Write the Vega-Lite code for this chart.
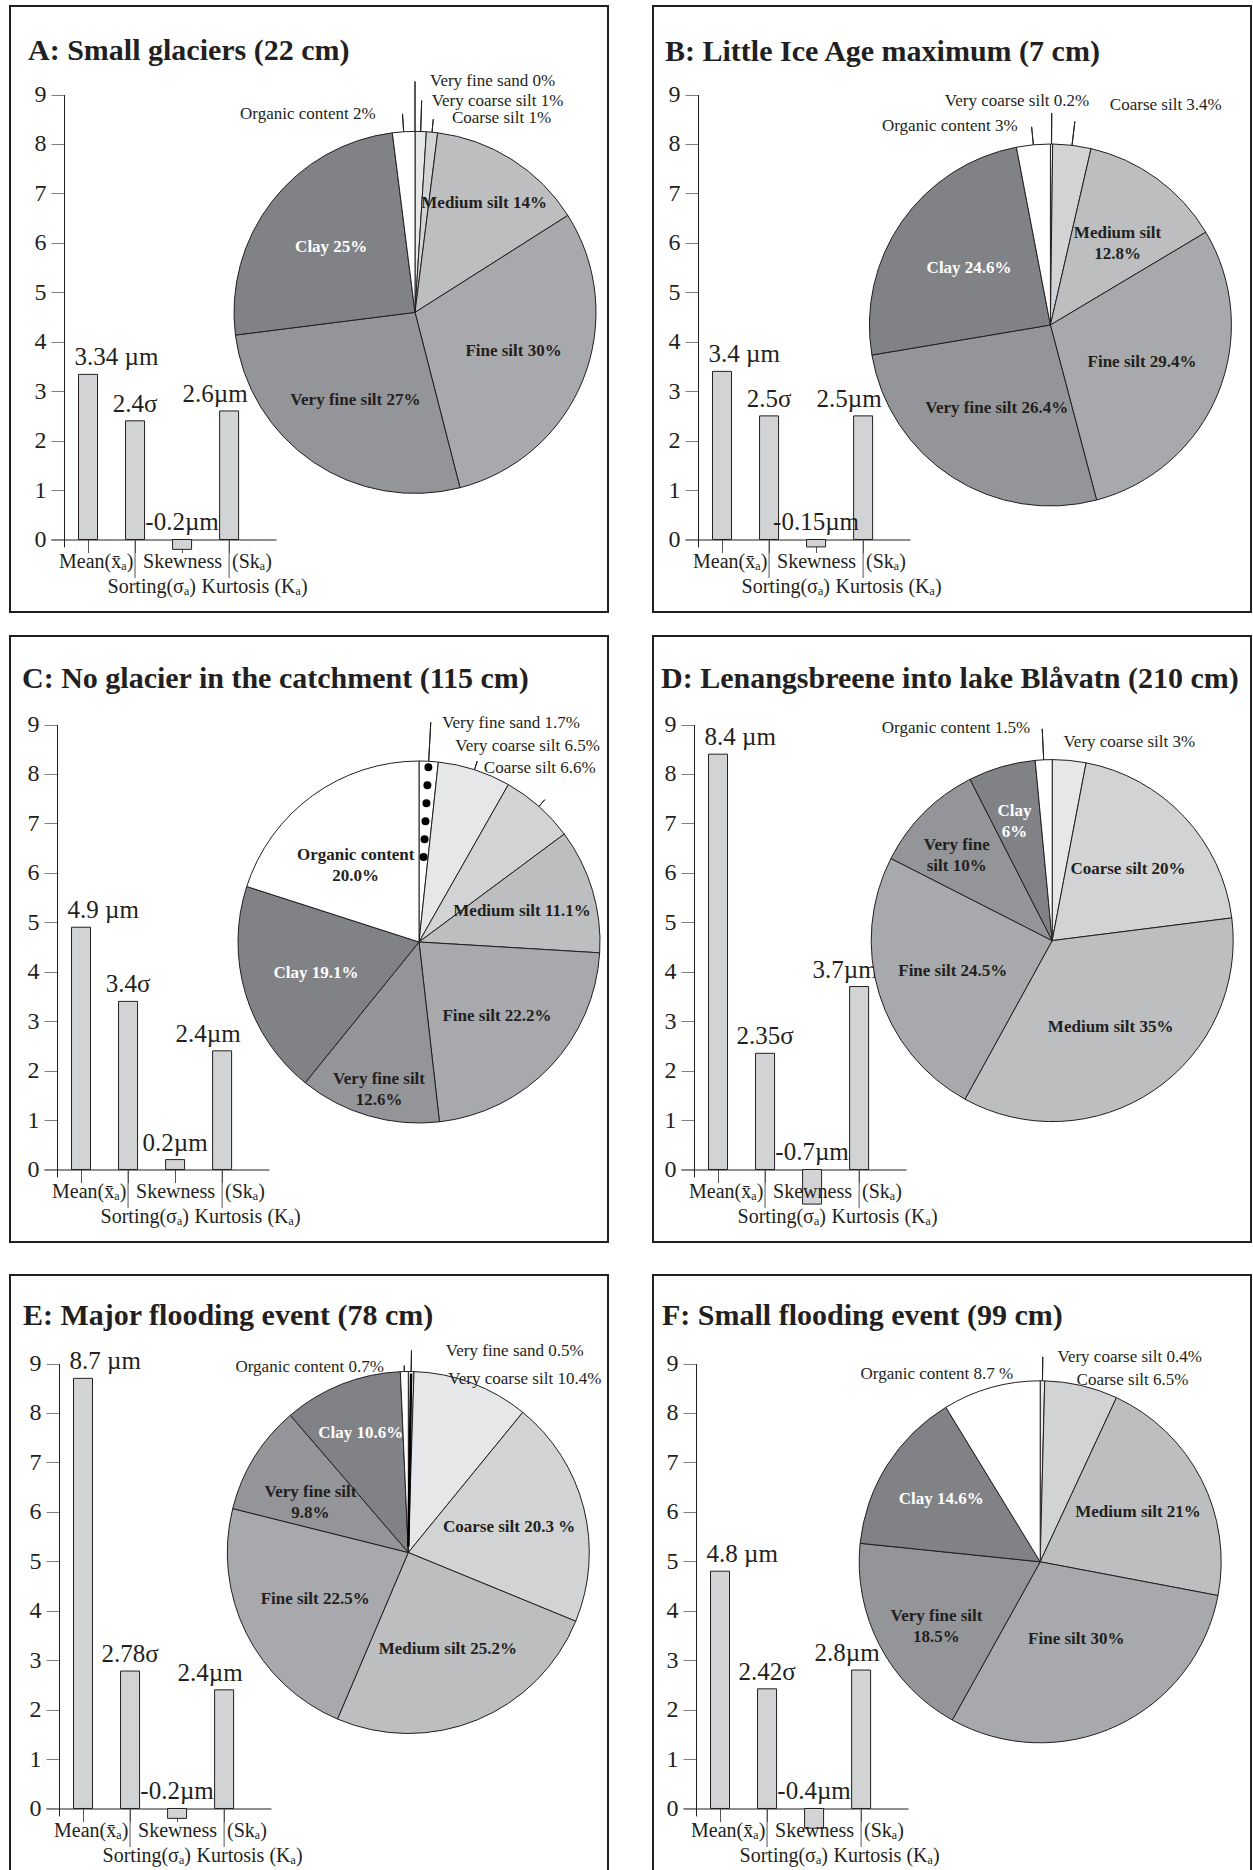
{
  "$schema": "https://vega.github.io/schema/vega-lite/v6.json",
  "padding": {"left": 9, "top": 5, "right": 0, "bottom": 0},
  "background": "#ffffff",
  "config": {
    "view": {"stroke": "#231f20", "strokeWidth": 2},
    "title": {"font": "Liberation Serif", "fontSize": 30, "fontWeight": "bold", "anchor": "start", "frame": "group", "baseline": "alphabetic", "color": "#231f20"},
    "axisY": {"labelFont": "Liberation Serif", "labelFontSize": 24, "labelColor": "#231f20", "tickSize": 13, "labelPadding": 5, "tickColor": "#808080", "domainColor": "#231f20", "grid": false},
    "axisX": {"labels": false, "domainColor": "#231f20", "tickColor": "#555555", "tickSize": 13, "grid": false}
  },
  "datasets": {
    "stats": [
      {"stat": "Mean", "name": "Mean(x\u0304\u2090)"},
      {"stat": "Sorting", "name": "Sorting(\u03c3\u2090)"},
      {"stat": "Skewness", "name": "Skewness\u2002(Sk\u2090)"},
      {"stat": "Kurtosis", "name": "Kurtosis (K\u2090)"}
    ],
    "bA": [
      {"stat": "Mean", "value": 3.34, "text": "3.34 \u00b5m"},
      {"stat": "Sorting", "value": 2.4, "text": "2.4\u03c3"},
      {"stat": "Skewness", "value": -0.2, "text": "-0.2\u00b5m"},
      {"stat": "Kurtosis", "value": 2.6, "text": "2.6\u00b5m"}
    ],
    "bB": [
      {"stat": "Mean", "value": 3.4, "text": "3.4 \u00b5m"},
      {"stat": "Sorting", "value": 2.5, "text": "2.5\u03c3"},
      {"stat": "Skewness", "value": -0.15, "text": "-0.15\u00b5m"},
      {"stat": "Kurtosis", "value": 2.5, "text": "2.5\u00b5m"}
    ],
    "bC": [
      {"stat": "Mean", "value": 4.9, "text": "4.9 \u00b5m"},
      {"stat": "Sorting", "value": 3.4, "text": "3.4\u03c3"},
      {"stat": "Skewness", "value": 0.2, "text": "0.2\u00b5m"},
      {"stat": "Kurtosis", "value": 2.4, "text": "2.4\u00b5m"}
    ],
    "bD": [
      {"stat": "Mean", "value": 8.4, "text": "8.4 \u00b5m"},
      {"stat": "Sorting", "value": 2.35, "text": "2.35\u03c3"},
      {"stat": "Skewness", "value": -0.7, "text": "-0.7\u00b5m"},
      {"stat": "Kurtosis", "value": 3.7, "text": "3.7\u00b5m"}
    ],
    "bE": [
      {"stat": "Mean", "value": 8.7, "text": "8.7 \u00b5m"},
      {"stat": "Sorting", "value": 2.78, "text": "2.78\u03c3"},
      {"stat": "Skewness", "value": -0.2, "text": "-0.2\u00b5m"},
      {"stat": "Kurtosis", "value": 2.4, "text": "2.4\u00b5m"}
    ],
    "bF": [
      {"stat": "Mean", "value": 4.8, "text": "4.8 \u00b5m"},
      {"stat": "Sorting", "value": 2.42, "text": "2.42\u03c3"},
      {"stat": "Skewness", "value": -0.4, "text": "-0.4\u00b5m"},
      {"stat": "Kurtosis", "value": 2.8, "text": "2.8\u00b5m"}
    ],
    "pA": [
      {"cat": "Very fine sand", "pct": 0, "label": "Very fine sand 0%"},
      {"cat": "Very coarse silt", "pct": 1, "label": "Very coarse silt 1%"},
      {"cat": "Coarse silt", "pct": 1, "label": "Coarse silt 1%"},
      {"cat": "Medium silt", "pct": 14, "label": "Medium silt 14%"},
      {"cat": "Fine silt", "pct": 30, "label": "Fine silt 30%"},
      {"cat": "Very fine silt", "pct": 27, "label": "Very fine silt 27%"},
      {"cat": "Clay", "pct": 25, "label": "Clay 25%"},
      {"cat": "Organic content", "pct": 2, "label": "Organic content 2%"}
    ],
    "pB": [
      {"cat": "Very coarse silt", "pct": 0.2, "label": "Very coarse silt 0.2%"},
      {"cat": "Coarse silt", "pct": 3.4, "label": "Coarse silt 3.4%"},
      {"cat": "Medium silt", "pct": 12.8, "label": "Medium silt\n12.8%"},
      {"cat": "Fine silt", "pct": 29.4, "label": "Fine silt 29.4%"},
      {"cat": "Very fine silt", "pct": 26.4, "label": "Very fine silt 26.4%"},
      {"cat": "Clay", "pct": 24.6, "label": "Clay 24.6%"},
      {"cat": "Organic content", "pct": 3, "label": "Organic content 3%"}
    ],
    "pC": [
      {"cat": "Very fine sand", "pct": 1.7, "label": "Very fine sand 1.7%"},
      {"cat": "Very coarse silt", "pct": 6.5, "label": "Very coarse silt 6.5%"},
      {"cat": "Coarse silt", "pct": 6.6, "label": "Coarse silt 6.6%"},
      {"cat": "Medium silt", "pct": 11.1, "label": "Medium silt 11.1%"},
      {"cat": "Fine silt", "pct": 22.2, "label": "Fine silt 22.2%"},
      {"cat": "Very fine silt", "pct": 12.6, "label": "Very fine silt\n12.6%"},
      {"cat": "Clay", "pct": 19.1, "label": "Clay 19.1%"},
      {"cat": "Organic content", "pct": 20.0, "label": "Organic content\n20.0%"}
    ],
    "pD": [
      {"cat": "Very coarse silt", "pct": 3, "label": "Very coarse silt 3%"},
      {"cat": "Coarse silt", "pct": 20, "label": "Coarse silt 20%"},
      {"cat": "Medium silt", "pct": 35, "label": "Medium silt 35%"},
      {"cat": "Fine silt", "pct": 24.5, "label": "Fine silt 24.5%"},
      {"cat": "Very fine silt", "pct": 10, "label": "Very fine\nsilt 10%"},
      {"cat": "Clay", "pct": 6, "label": "Clay\n6%"},
      {"cat": "Organic content", "pct": 1.5, "label": "Organic content 1.5%"}
    ],
    "pE": [
      {"cat": "Very fine sand", "pct": 0.5, "label": "Very fine sand 0.5%"},
      {"cat": "Very coarse silt", "pct": 10.4, "label": "Very coarse silt 10.4%"},
      {"cat": "Coarse silt", "pct": 20.3, "label": "Coarse silt 20.3 %"},
      {"cat": "Medium silt", "pct": 25.2, "label": "Medium silt 25.2%"},
      {"cat": "Fine silt", "pct": 22.5, "label": "Fine silt  22.5%"},
      {"cat": "Very fine silt", "pct": 9.8, "label": "Very fine silt\n9.8%"},
      {"cat": "Clay", "pct": 10.6, "label": "Clay 10.6%"},
      {"cat": "Organic content", "pct": 0.7, "label": "Organic content 0.7%"}
    ],
    "pF": [
      {"cat": "Very coarse silt", "pct": 0.4, "label": "Very coarse silt 0.4%"},
      {"cat": "Coarse silt", "pct": 6.5, "label": "Coarse silt 6.5%"},
      {"cat": "Medium silt", "pct": 21, "label": "Medium silt 21%"},
      {"cat": "Fine silt", "pct": 30, "label": "Fine silt 30%"},
      {"cat": "Very fine silt", "pct": 18.5, "label": "Very fine silt\n18.5%"},
      {"cat": "Clay", "pct": 14.6, "label": "Clay 14.6%"},
      {"cat": "Organic content", "pct": 8.7, "label": "Organic content 8.7 %"}
    ]
  },
  "vconcat": [
    {
      "vconcat": [
        {
          "hconcat": [
            {
              "width": 598, "height": 606,
              "title": {"text": "A: Small glaciers (22 cm)", "offset": -60, "dx": 18},
              "layer": [
                {
                  "data": {"name": "bA"},
                  "transform": [{"calculate": "max(datum.value, 0)", "as": "top"}],
                  "layer": [
                    {"mark": {"type": "bar", "fill": "#d1d3d4", "stroke": "#231f20", "strokeWidth": 1},
                     "encoding": {
                       "x": {"field": "stat", "type": "nominal", "scale": {"domain": ["Mean", "Sorting", "Skewness", "Kurtosis"], "range": [41, 266], "paddingInner": 0.596, "paddingOuter": 0.69, "align": 0.424}, "axis": {"offset": -72.5, "title": null}},
                       "y": {"field": "value", "type": "quantitative", "scale": {"domain": [-0.15, 9], "range": [540.9, 88.5], "nice": false, "zero": false}, "axis": {"offset": -54, "title": null, "format": "d", "values": [0, 1, 2, 3, 4, 5, 6, 7, 8, 9]}}
                     }},
                    {"transform": [{"filter": "datum.stat === 'Sorting' || datum.stat === 'Kurtosis'"}],
                     "mark": {"type": "rule", "stroke": "#555555", "strokeWidth": 1},
                     "encoding": {"x": {"field": "stat", "type": "nominal"}, "y": {"datum": 0, "type": "quantitative"}, "y2": {"datum": -0.78}}},
                    {"transform": [{"filter": "datum.stat === 'Mean'"}],
                     "mark": {"type": "text", "font": "Liberation Serif", "fontSize": 25, "baseline": "alphabetic", "fill": "#231f20", "dy": -9, "align": "left", "dx": -13.5},
                     "encoding": {"x": {"field": "stat", "type": "nominal"}, "y": {"field": "top", "type": "quantitative"}, "text": {"field": "text"}}},
                    {"transform": [{"filter": "datum.stat === 'Sorting' || datum.stat === 'Skewness'"}],
                     "mark": {"type": "text", "font": "Liberation Serif", "fontSize": 25, "baseline": "alphabetic", "fill": "#231f20", "dy": -9, "align": "center"},
                     "encoding": {"x": {"field": "stat", "type": "nominal"}, "y": {"field": "top", "type": "quantitative"}, "text": {"field": "text"}}},
                    {"transform": [{"filter": "datum.stat === 'Kurtosis'"}],
                     "mark": {"type": "text", "font": "Liberation Serif", "fontSize": 25, "baseline": "alphabetic", "fill": "#231f20", "dy": -9, "align": "center", "dx": -14},
                     "encoding": {"x": {"field": "stat", "type": "nominal"}, "y": {"field": "top", "type": "quantitative"}, "text": {"field": "text"}}}
                  ]
                },
                {
                  "data": {"name": "stats"},
                  "layer": [
                    {"transform": [{"filter": "datum.stat === 'Mean'"}],
                     "mark": {"type": "text", "font": "Liberation Serif", "fontSize": 20, "baseline": "alphabetic", "align": "left", "fill": "#231f20", "dx": -29, "dy": 29},
                     "encoding": {"x": {"field": "stat", "type": "nominal"}, "y": {"datum": 0, "type": "quantitative"}, "text": {"field": "name"}}},
                    {"transform": [{"filter": "datum.stat === 'Skewness'"}],
                     "mark": {"type": "text", "font": "Liberation Serif", "fontSize": 20, "baseline": "alphabetic", "align": "left", "fill": "#231f20", "dx": -39, "dy": 29},
                     "encoding": {"x": {"field": "stat", "type": "nominal"}, "y": {"datum": 0, "type": "quantitative"}, "text": {"field": "name"}}},
                    {"transform": [{"filter": "datum.stat === 'Sorting' || datum.stat === 'Kurtosis'"}],
                     "mark": {"type": "text", "font": "Liberation Serif", "fontSize": 20, "baseline": "alphabetic", "align": "left", "fill": "#231f20", "dx": -27.5, "dy": 54},
                     "encoding": {"x": {"field": "stat", "type": "nominal"}, "y": {"datum": 0, "type": "quantitative"}, "text": {"field": "name"}}}
                  ]
                },
                {
                  "data": {"name": "pA"},
                  "transform": [
                    {"window": [{"op": "row_number", "as": "k"}]},
                    {"stack": "pct", "groupby": [], "sort": [{"field": "k", "order": "ascending"}], "as": ["a0", "a1"]},
                    {"calculate": "(datum.a0 + datum.a1) / 2", "as": "am"}
                  ],
                  "layer": [
                    {"mark": {"type": "arc", "x": 405, "y": 306.4, "radius": 181, "stroke": "#231f20", "strokeWidth": 1},
                     "encoding": {"theta": {"field": "a0", "type": "quantitative", "stack": null, "scale": {"domain": [0, 100]}}, "theta2": {"field": "a1"},
                       "fill": {"field": "cat", "type": "nominal", "scale": {"domain": ["Very fine sand", "Very coarse silt", "Coarse silt", "Medium silt", "Fine silt", "Very fine silt", "Clay", "Organic content"], "range": ["#ffffff", "#e6e7e8", "#d1d3d4", "#bcbec0", "#a7a9ac", "#939598", "#808285", "#ffffff"]}, "legend": null}}},
                    {"transform": [{"filter": {"field": "cat", "oneOf": ["Medium silt"]}}],
                     "mark": {"type": "text", "font": "Liberation Serif", "fontSize": 17, "fontWeight": "bold", "baseline": "middle", "align": "center", "lineHeight": 21, "lineBreak": "\n", "x": 405, "y": 306.4, "radius": 129},
                     "encoding": {"theta": {"field": "am", "type": "quantitative"}, "text": {"field": "label"}, "color": {"condition": {"test": "datum.cat === 'Clay'", "value": "#ffffff"}, "value": "#231f20"}}},
                    {"transform": [{"filter": {"field": "cat", "oneOf": ["Fine silt", "Very fine silt", "Clay"]}}],
                     "mark": {"type": "text", "font": "Liberation Serif", "fontSize": 17, "fontWeight": "bold", "baseline": "middle", "align": "center", "lineHeight": 21, "lineBreak": "\n", "x": 405, "y": 306.4, "radius": 106},
                     "encoding": {"theta": {"field": "am", "type": "quantitative"}, "text": {"field": "label"}, "color": {"condition": {"test": "datum.cat === 'Clay'", "value": "#ffffff"}, "value": "#231f20"}}},
                    {"transform": [{"filter": "datum.cat === 'Very fine sand'"}],
                     "layer": [
                       {"mark": {"type": "arc", "x": 405, "y": 306.4, "radius": 231, "radius2": 181, "stroke": "#231f20", "strokeWidth": 1, "fillOpacity": 0}, "encoding": {"theta": {"field": "am", "type": "quantitative", "stack": null}, "theta2": {"field": "am"}}},
                       {"mark": {"type": "text", "font": "Liberation Serif", "fontSize": 17, "baseline": "alphabetic", "fill": "#231f20", "x": 405, "y": 306.4, "radius": 231, "align": "left", "dx": 15, "dy": 5}, "encoding": {"theta": {"field": "am", "type": "quantitative"}, "text": {"field": "label"}}}
                     ]},
                    {"transform": [{"filter": "datum.cat === 'Very coarse silt'"}],
                     "layer": [
                       {"mark": {"type": "arc", "x": 405, "y": 306.4, "radius": 212, "radius2": 181, "stroke": "#231f20", "strokeWidth": 1, "fillOpacity": 0}, "encoding": {"theta": {"field": "am", "type": "quantitative", "stack": null}, "theta2": {"field": "am"}}},
                       {"mark": {"type": "text", "font": "Liberation Serif", "fontSize": 17, "baseline": "alphabetic", "fill": "#231f20", "x": 405, "y": 306.4, "radius": 212, "align": "left", "dx": 10, "dy": 5.2}, "encoding": {"theta": {"field": "am", "type": "quantitative"}, "text": {"field": "label"}}}
                     ]},
                    {"transform": [{"filter": "datum.cat === 'Coarse silt'"}],
                     "layer": [
                       {"mark": {"type": "arc", "x": 405, "y": 306.4, "radius": 194, "radius2": 181, "stroke": "#231f20", "strokeWidth": 1, "fillOpacity": 0}, "encoding": {"theta": {"field": "am", "type": "quantitative", "stack": null}, "theta2": {"field": "am"}}},
                       {"mark": {"type": "text", "font": "Liberation Serif", "fontSize": 17, "baseline": "alphabetic", "fill": "#231f20", "x": 405, "y": 306.4, "radius": 194, "align": "left", "dx": 18.7, "dy": 4.1}, "encoding": {"theta": {"field": "am", "type": "quantitative"}, "text": {"field": "label"}}}
                     ]},
                    {"transform": [{"filter": "datum.cat === 'Organic content'"}],
                     "layer": [
                       {"mark": {"type": "arc", "x": 405, "y": 306.4, "radius": 199, "radius2": 181, "stroke": "#231f20", "strokeWidth": 1, "fillOpacity": 0}, "encoding": {"theta": {"field": "am", "type": "quantitative", "stack": null}, "theta2": {"field": "am"}}},
                       {"mark": {"type": "text", "font": "Liberation Serif", "fontSize": 17, "baseline": "alphabetic", "fill": "#231f20", "x": 405, "y": 306.4, "radius": 199, "align": "right", "dx": -26.8, "dy": 5}, "encoding": {"theta": {"field": "am", "type": "quantitative"}, "text": {"field": "label"}}}
                     ]}
                  ]
                }
              ]
            },
            {
              "width": 598, "height": 606,
              "title": {"text": "B: Little Ice Age maximum (7 cm)", "offset": -61, "dx": 12},
              "layer": [
                {
                  "data": {"name": "bB"},
                  "transform": [{"calculate": "max(datum.value, 0)", "as": "top"}],
                  "layer": [
                    {"mark": {"type": "bar", "fill": "#d1d3d4", "stroke": "#231f20", "strokeWidth": 1},
                     "encoding": {
                       "x": {"field": "stat", "type": "nominal", "scale": {"domain": ["Mean", "Sorting", "Skewness", "Kurtosis"], "range": [32, 257], "paddingInner": 0.596, "paddingOuter": 0.69, "align": 0.424}, "axis": {"offset": -72.5, "title": null}},
                       "y": {"field": "value", "type": "quantitative", "scale": {"domain": [-0.15, 9], "range": [540.9, 88.5], "nice": false, "zero": false}, "axis": {"offset": -45, "title": null, "format": "d", "values": [0, 1, 2, 3, 4, 5, 6, 7, 8, 9]}}
                     }},
                    {"transform": [{"filter": "datum.stat === 'Sorting' || datum.stat === 'Kurtosis'"}],
                     "mark": {"type": "rule", "stroke": "#555555", "strokeWidth": 1},
                     "encoding": {"x": {"field": "stat", "type": "nominal"}, "y": {"datum": 0, "type": "quantitative"}, "y2": {"datum": -0.78}}},
                    {"transform": [{"filter": "datum.stat === 'Mean'"}],
                     "mark": {"type": "text", "font": "Liberation Serif", "fontSize": 25, "baseline": "alphabetic", "fill": "#231f20", "dy": -9, "align": "left", "dx": -13.5},
                     "encoding": {"x": {"field": "stat", "type": "nominal"}, "y": {"field": "top", "type": "quantitative"}, "text": {"field": "text"}}},
                    {"transform": [{"filter": "datum.stat === 'Sorting' || datum.stat === 'Skewness'"}],
                     "mark": {"type": "text", "font": "Liberation Serif", "fontSize": 25, "baseline": "alphabetic", "fill": "#231f20", "dy": -9, "align": "center"},
                     "encoding": {"x": {"field": "stat", "type": "nominal"}, "y": {"field": "top", "type": "quantitative"}, "text": {"field": "text"}}},
                    {"transform": [{"filter": "datum.stat === 'Kurtosis'"}],
                     "mark": {"type": "text", "font": "Liberation Serif", "fontSize": 25, "baseline": "alphabetic", "fill": "#231f20", "dy": -9, "align": "center", "dx": -14},
                     "encoding": {"x": {"field": "stat", "type": "nominal"}, "y": {"field": "top", "type": "quantitative"}, "text": {"field": "text"}}}
                  ]
                },
                {
                  "data": {"name": "stats"},
                  "layer": [
                    {"transform": [{"filter": "datum.stat === 'Mean'"}],
                     "mark": {"type": "text", "font": "Liberation Serif", "fontSize": 20, "baseline": "alphabetic", "align": "left", "fill": "#231f20", "dx": -29, "dy": 29},
                     "encoding": {"x": {"field": "stat", "type": "nominal"}, "y": {"datum": 0, "type": "quantitative"}, "text": {"field": "name"}}},
                    {"transform": [{"filter": "datum.stat === 'Skewness'"}],
                     "mark": {"type": "text", "font": "Liberation Serif", "fontSize": 20, "baseline": "alphabetic", "align": "left", "fill": "#231f20", "dx": -39, "dy": 29},
                     "encoding": {"x": {"field": "stat", "type": "nominal"}, "y": {"datum": 0, "type": "quantitative"}, "text": {"field": "name"}}},
                    {"transform": [{"filter": "datum.stat === 'Sorting' || datum.stat === 'Kurtosis'"}],
                     "mark": {"type": "text", "font": "Liberation Serif", "fontSize": 20, "baseline": "alphabetic", "align": "left", "fill": "#231f20", "dx": -27.5, "dy": 54},
                     "encoding": {"x": {"field": "stat", "type": "nominal"}, "y": {"datum": 0, "type": "quantitative"}, "text": {"field": "name"}}}
                  ]
                },
                {
                  "data": {"name": "pB"},
                  "transform": [
                    {"window": [{"op": "row_number", "as": "k"}]},
                    {"stack": "pct", "groupby": [], "sort": [{"field": "k", "order": "ascending"}], "as": ["a0", "a1"]},
                    {"calculate": "(datum.a0 + datum.a1) / 2", "as": "am"}
                  ],
                  "layer": [
                    {"mark": {"type": "arc", "x": 397.4, "y": 319, "radius": 181, "stroke": "#231f20", "strokeWidth": 1},
                     "encoding": {"theta": {"field": "a0", "type": "quantitative", "stack": null, "scale": {"domain": [0, 99.8]}}, "theta2": {"field": "a1"},
                       "fill": {"field": "cat", "type": "nominal", "scale": {"domain": ["Very fine sand", "Very coarse silt", "Coarse silt", "Medium silt", "Fine silt", "Very fine silt", "Clay", "Organic content"], "range": ["#ffffff", "#e6e7e8", "#d1d3d4", "#bcbec0", "#a7a9ac", "#939598", "#808285", "#ffffff"]}, "legend": null}}},
                    {"transform": [{"filter": {"field": "cat", "oneOf": ["Medium silt"]}}],
                     "mark": {"type": "text", "font": "Liberation Serif", "fontSize": 17, "fontWeight": "bold", "baseline": "middle", "align": "center", "lineHeight": 21, "lineBreak": "\n", "x": 397.4, "y": 319, "radius": 114},
                     "encoding": {"theta": {"field": "am", "type": "quantitative"}, "text": {"field": "label"}, "color": {"condition": {"test": "datum.cat === 'Clay'", "value": "#ffffff"}, "value": "#231f20"}}},
                    {"transform": [{"filter": {"field": "cat", "oneOf": ["Fine silt", "Very fine silt", "Clay"]}}],
                     "mark": {"type": "text", "font": "Liberation Serif", "fontSize": 17, "fontWeight": "bold", "baseline": "middle", "align": "center", "lineHeight": 21, "lineBreak": "\n", "x": 397.4, "y": 319, "radius": 99},
                     "encoding": {"theta": {"field": "am", "type": "quantitative"}, "text": {"field": "label"}, "color": {"condition": {"test": "datum.cat === 'Clay'", "value": "#ffffff"}, "value": "#231f20"}}},
                    {"transform": [{"filter": "datum.cat === 'Very coarse silt'"}],
                     "layer": [
                       {"mark": {"type": "arc", "x": 397.4, "y": 319, "radius": 212, "radius2": 181, "stroke": "#231f20", "strokeWidth": 1, "fillOpacity": 0}, "encoding": {"theta": {"field": "am", "type": "quantitative", "stack": null}, "theta2": {"field": "am"}}},
                       {"mark": {"type": "text", "font": "Liberation Serif", "fontSize": 17, "baseline": "alphabetic", "fill": "#231f20", "x": 397.4, "y": 319, "radius": 212, "align": "center", "dx": -34.7, "dy": -7.2}, "encoding": {"theta": {"field": "am", "type": "quantitative"}, "text": {"field": "label"}}}
                     ]},
                    {"transform": [{"filter": "datum.cat === 'Coarse silt'"}],
                     "layer": [
                       {"mark": {"type": "arc", "x": 397.4, "y": 319, "radius": 205, "radius2": 181, "stroke": "#231f20", "strokeWidth": 1, "fillOpacity": 0}, "encoding": {"theta": {"field": "am", "type": "quantitative", "stack": null}, "theta2": {"field": "am"}}},
                       {"mark": {"type": "text", "font": "Liberation Serif", "fontSize": 17, "baseline": "alphabetic", "fill": "#231f20", "x": 397.4, "y": 319, "radius": 205, "align": "left", "dx": 35, "dy": -11}, "encoding": {"theta": {"field": "am", "type": "quantitative"}, "text": {"field": "label"}}}
                     ]},
                    {"transform": [{"filter": "datum.cat === 'Organic content'"}],
                     "layer": [
                       {"mark": {"type": "arc", "x": 397.4, "y": 319, "radius": 199, "radius2": 181, "stroke": "#231f20", "strokeWidth": 1, "fillOpacity": 0}, "encoding": {"theta": {"field": "am", "type": "quantitative", "stack": null}, "theta2": {"field": "am"}}},
                       {"mark": {"type": "text", "font": "Liberation Serif", "fontSize": 17, "baseline": "alphabetic", "fill": "#231f20", "x": 397.4, "y": 319, "radius": 199, "align": "right", "dx": -14, "dy": 4}, "encoding": {"theta": {"field": "am", "type": "quantitative"}, "text": {"field": "label"}}}
                     ]}
                  ]
                }
              ]
            }
          ],
          "spacing": 43
        },
        {
          "hconcat": [
            {
              "width": 598, "height": 606,
              "title": {"text": "C: No glacier in the catchment (115 cm)", "offset": -58.4, "dx": 12},
              "layer": [
                {
                  "data": {"name": "bC"},
                  "transform": [{"calculate": "max(datum.value, 0)", "as": "top"}],
                  "layer": [
                    {"mark": {"type": "bar", "fill": "#d1d3d4", "stroke": "#231f20", "strokeWidth": 1},
                     "encoding": {
                       "x": {"field": "stat", "type": "nominal", "scale": {"domain": ["Mean", "Sorting", "Skewness", "Kurtosis"], "range": [34, 259], "paddingInner": 0.596, "paddingOuter": 0.69, "align": 0.424}, "axis": {"offset": -72.5, "title": null}},
                       "y": {"field": "value", "type": "quantitative", "scale": {"domain": [-0.15, 9], "range": [540.9, 88.5], "nice": false, "zero": false}, "axis": {"offset": -47, "title": null, "format": "d", "values": [0, 1, 2, 3, 4, 5, 6, 7, 8, 9]}}
                     }},
                    {"transform": [{"filter": "datum.stat === 'Sorting' || datum.stat === 'Kurtosis'"}],
                     "mark": {"type": "rule", "stroke": "#555555", "strokeWidth": 1},
                     "encoding": {"x": {"field": "stat", "type": "nominal"}, "y": {"datum": 0, "type": "quantitative"}, "y2": {"datum": -0.78}}},
                    {"transform": [{"filter": "datum.stat === 'Mean'"}],
                     "mark": {"type": "text", "font": "Liberation Serif", "fontSize": 25, "baseline": "alphabetic", "fill": "#231f20", "dy": -9, "align": "left", "dx": -13.5},
                     "encoding": {"x": {"field": "stat", "type": "nominal"}, "y": {"field": "top", "type": "quantitative"}, "text": {"field": "text"}}},
                    {"transform": [{"filter": "datum.stat === 'Sorting' || datum.stat === 'Skewness'"}],
                     "mark": {"type": "text", "font": "Liberation Serif", "fontSize": 25, "baseline": "alphabetic", "fill": "#231f20", "dy": -9, "align": "center"},
                     "encoding": {"x": {"field": "stat", "type": "nominal"}, "y": {"field": "top", "type": "quantitative"}, "text": {"field": "text"}}},
                    {"transform": [{"filter": "datum.stat === 'Kurtosis'"}],
                     "mark": {"type": "text", "font": "Liberation Serif", "fontSize": 25, "baseline": "alphabetic", "fill": "#231f20", "dy": -9, "align": "center", "dx": -14},
                     "encoding": {"x": {"field": "stat", "type": "nominal"}, "y": {"field": "top", "type": "quantitative"}, "text": {"field": "text"}}}
                  ]
                },
                {
                  "data": {"name": "stats"},
                  "layer": [
                    {"transform": [{"filter": "datum.stat === 'Mean'"}],
                     "mark": {"type": "text", "font": "Liberation Serif", "fontSize": 20, "baseline": "alphabetic", "align": "left", "fill": "#231f20", "dx": -29, "dy": 29},
                     "encoding": {"x": {"field": "stat", "type": "nominal"}, "y": {"datum": 0, "type": "quantitative"}, "text": {"field": "name"}}},
                    {"transform": [{"filter": "datum.stat === 'Skewness'"}],
                     "mark": {"type": "text", "font": "Liberation Serif", "fontSize": 20, "baseline": "alphabetic", "align": "left", "fill": "#231f20", "dx": -39, "dy": 29},
                     "encoding": {"x": {"field": "stat", "type": "nominal"}, "y": {"datum": 0, "type": "quantitative"}, "text": {"field": "name"}}},
                    {"transform": [{"filter": "datum.stat === 'Sorting' || datum.stat === 'Kurtosis'"}],
                     "mark": {"type": "text", "font": "Liberation Serif", "fontSize": 20, "baseline": "alphabetic", "align": "left", "fill": "#231f20", "dx": -27.5, "dy": 54},
                     "encoding": {"x": {"field": "stat", "type": "nominal"}, "y": {"datum": 0, "type": "quantitative"}, "text": {"field": "name"}}}
                  ]
                },
                {
                  "data": {"name": "pC"},
                  "transform": [
                    {"window": [{"op": "row_number", "as": "k"}]},
                    {"stack": "pct", "groupby": [], "sort": [{"field": "k", "order": "ascending"}], "as": ["a0", "a1"]},
                    {"calculate": "(datum.a0 + datum.a1) / 2", "as": "am"}
                  ],
                  "layer": [
                    {"mark": {"type": "arc", "x": 409, "y": 306, "radius": 181, "stroke": "#231f20", "strokeWidth": 1},
                     "encoding": {"theta": {"field": "a0", "type": "quantitative", "stack": null, "scale": {"domain": [0, 99.8]}}, "theta2": {"field": "a1"},
                       "fill": {"field": "cat", "type": "nominal", "scale": {"domain": ["Very fine sand", "Very coarse silt", "Coarse silt", "Medium silt", "Fine silt", "Very fine silt", "Clay", "Organic content"], "range": ["#ffffff", "#e6e7e8", "#d1d3d4", "#bcbec0", "#a7a9ac", "#939598", "#808285", "#ffffff"]}, "legend": null}}},
                    {"transform": [{"filter": "datum.cat === 'Very fine sand'"}],
                     "mark": {"type": "arc", "x": 409, "y": 306, "radius": 175, "radius2": 85, "stroke": "#000000", "strokeWidth": 8, "strokeDash": [0, 18], "strokeCap": "round", "fillOpacity": 0},
                     "encoding": {"theta": {"field": "am", "type": "quantitative", "stack": null}, "theta2": {"field": "am"}}},
                    {"transform": [{"filter": {"field": "cat", "oneOf": ["Very fine silt"]}}],
                     "mark": {"type": "text", "font": "Liberation Serif", "fontSize": 17, "fontWeight": "bold", "baseline": "middle", "align": "center", "lineHeight": 21, "lineBreak": "\n", "x": 409, "y": 306, "radius": 143},
                     "encoding": {"theta": {"field": "am", "type": "quantitative"}, "text": {"field": "label"}, "color": {"condition": {"test": "datum.cat === 'Clay'", "value": "#ffffff"}, "value": "#231f20"}}},
                    {"transform": [{"filter": {"field": "cat", "oneOf": ["Organic content", "Medium silt", "Fine silt", "Clay"]}}],
                     "mark": {"type": "text", "font": "Liberation Serif", "fontSize": 17, "fontWeight": "bold", "baseline": "middle", "align": "center", "lineHeight": 21, "lineBreak": "\n", "x": 409, "y": 306, "radius": 107.5},
                     "encoding": {"theta": {"field": "am", "type": "quantitative"}, "text": {"field": "label"}, "color": {"condition": {"test": "datum.cat === 'Clay'", "value": "#ffffff"}, "value": "#231f20"}}},
                    {"transform": [{"filter": "datum.cat === 'Very fine sand'"}],
                     "layer": [
                       {"mark": {"type": "arc", "x": 409, "y": 306, "radius": 220, "radius2": 181, "stroke": "#231f20", "strokeWidth": 1, "fillOpacity": 0}, "encoding": {"theta": {"field": "am", "type": "quantitative", "stack": null}, "theta2": {"field": "am"}}},
                       {"mark": {"type": "text", "font": "Liberation Serif", "fontSize": 17, "baseline": "alphabetic", "fill": "#231f20", "x": 409, "y": 306, "radius": 220, "align": "left", "dx": 11.4, "dy": 5.4}, "encoding": {"theta": {"field": "am", "type": "quantitative"}, "text": {"field": "label"}}}
                     ]},
                    {"transform": [{"filter": "datum.cat === 'Very coarse silt'"}],
                     "layer": [
                       {"mark": {"type": "arc", "x": 409, "y": 306, "radius": 190, "radius2": 181, "stroke": "#231f20", "strokeWidth": 1, "fillOpacity": 0}, "encoding": {"theta": {"field": "am", "type": "quantitative", "stack": null}, "theta2": {"field": "am"}}},
                       {"mark": {"type": "text", "font": "Liberation Serif", "fontSize": 17, "baseline": "alphabetic", "fill": "#231f20", "x": 409, "y": 306, "radius": 190, "align": "left", "dx": -21.9, "dy": -10.4}, "encoding": {"theta": {"field": "am", "type": "quantitative"}, "text": {"field": "label"}}}
                     ]},
                    {"transform": [{"filter": "datum.cat === 'Coarse silt'"}],
                     "layer": [
                       {"mark": {"type": "arc", "x": 409, "y": 306, "radius": 190, "radius2": 181, "stroke": "#231f20", "strokeWidth": 1, "fillOpacity": 0}, "encoding": {"theta": {"field": "am", "type": "quantitative", "stack": null}, "theta2": {"field": "am"}}},
                       {"mark": {"type": "text", "font": "Liberation Serif", "fontSize": 17, "baseline": "alphabetic", "fill": "#231f20", "x": 409, "y": 306, "radius": 190, "align": "left", "dx": -61, "dy": -26.2}, "encoding": {"theta": {"field": "am", "type": "quantitative"}, "text": {"field": "label"}}}
                     ]}
                  ]
                }
              ]
            },
            {
              "width": 598, "height": 606,
              "title": {"text": "D: Lenangsbreene into lake Bl\u00e5vatn (210 cm)", "offset": -58.3, "dx": 8},
              "layer": [
                {
                  "data": {"name": "bD"},
                  "transform": [{"calculate": "max(datum.value, 0)", "as": "top"}],
                  "layer": [
                    {"mark": {"type": "bar", "fill": "#d1d3d4", "stroke": "#231f20", "strokeWidth": 1},
                     "encoding": {
                       "x": {"field": "stat", "type": "nominal", "scale": {"domain": ["Mean", "Sorting", "Skewness", "Kurtosis"], "range": [28, 253], "paddingInner": 0.596, "paddingOuter": 0.69, "align": 0.424}, "axis": {"offset": -72.5, "title": null}},
                       "y": {"field": "value", "type": "quantitative", "scale": {"domain": [-0.15, 9], "range": [540.9, 88.5], "nice": false, "zero": false}, "axis": {"offset": -41, "title": null, "format": "d", "values": [0, 1, 2, 3, 4, 5, 6, 7, 8, 9]}}
                     }},
                    {"transform": [{"filter": "datum.stat === 'Sorting' || datum.stat === 'Kurtosis'"}],
                     "mark": {"type": "rule", "stroke": "#555555", "strokeWidth": 1},
                     "encoding": {"x": {"field": "stat", "type": "nominal"}, "y": {"datum": 0, "type": "quantitative"}, "y2": {"datum": -0.78}}},
                    {"transform": [{"filter": "datum.stat === 'Mean'"}],
                     "mark": {"type": "text", "font": "Liberation Serif", "fontSize": 25, "baseline": "alphabetic", "fill": "#231f20", "dy": -9, "align": "left", "dx": -13.5},
                     "encoding": {"x": {"field": "stat", "type": "nominal"}, "y": {"field": "top", "type": "quantitative"}, "text": {"field": "text"}}},
                    {"transform": [{"filter": "datum.stat === 'Sorting' || datum.stat === 'Skewness'"}],
                     "mark": {"type": "text", "font": "Liberation Serif", "fontSize": 25, "baseline": "alphabetic", "fill": "#231f20", "dy": -9, "align": "center"},
                     "encoding": {"x": {"field": "stat", "type": "nominal"}, "y": {"field": "top", "type": "quantitative"}, "text": {"field": "text"}}},
                    {"transform": [{"filter": "datum.stat === 'Kurtosis'"}],
                     "mark": {"type": "text", "font": "Liberation Serif", "fontSize": 25, "baseline": "alphabetic", "fill": "#231f20", "dy": -9, "align": "center", "dx": -14},
                     "encoding": {"x": {"field": "stat", "type": "nominal"}, "y": {"field": "top", "type": "quantitative"}, "text": {"field": "text"}}}
                  ]
                },
                {
                  "data": {"name": "stats"},
                  "layer": [
                    {"transform": [{"filter": "datum.stat === 'Mean'"}],
                     "mark": {"type": "text", "font": "Liberation Serif", "fontSize": 20, "baseline": "alphabetic", "align": "left", "fill": "#231f20", "dx": -29, "dy": 29},
                     "encoding": {"x": {"field": "stat", "type": "nominal"}, "y": {"datum": 0, "type": "quantitative"}, "text": {"field": "name"}}},
                    {"transform": [{"filter": "datum.stat === 'Skewness'"}],
                     "mark": {"type": "text", "font": "Liberation Serif", "fontSize": 20, "baseline": "alphabetic", "align": "left", "fill": "#231f20", "dx": -39, "dy": 29},
                     "encoding": {"x": {"field": "stat", "type": "nominal"}, "y": {"datum": 0, "type": "quantitative"}, "text": {"field": "name"}}},
                    {"transform": [{"filter": "datum.stat === 'Sorting' || datum.stat === 'Kurtosis'"}],
                     "mark": {"type": "text", "font": "Liberation Serif", "fontSize": 20, "baseline": "alphabetic", "align": "left", "fill": "#231f20", "dx": -27.5, "dy": 54},
                     "encoding": {"x": {"field": "stat", "type": "nominal"}, "y": {"datum": 0, "type": "quantitative"}, "text": {"field": "name"}}}
                  ]
                },
                {
                  "data": {"name": "pD"},
                  "transform": [
                    {"window": [{"op": "row_number", "as": "k"}]},
                    {"stack": "pct", "groupby": [], "sort": [{"field": "k", "order": "ascending"}], "as": ["a0", "a1"]},
                    {"calculate": "(datum.a0 + datum.a1) / 2", "as": "am"}
                  ],
                  "layer": [
                    {"mark": {"type": "arc", "x": 399.2, "y": 304.6, "radius": 181, "stroke": "#231f20", "strokeWidth": 1},
                     "encoding": {"theta": {"field": "a0", "type": "quantitative", "stack": null, "scale": {"domain": [0, 100]}}, "theta2": {"field": "a1"},
                       "fill": {"field": "cat", "type": "nominal", "scale": {"domain": ["Very fine sand", "Very coarse silt", "Coarse silt", "Medium silt", "Fine silt", "Very fine silt", "Clay", "Organic content"], "range": ["#ffffff", "#e6e7e8", "#d1d3d4", "#bcbec0", "#a7a9ac", "#939598", "#808285", "#ffffff"]}, "legend": null}}},
                    {"transform": [{"filter": {"field": "cat", "oneOf": ["Clay", "Very fine silt"]}}],
                     "mark": {"type": "text", "font": "Liberation Serif", "fontSize": 17, "fontWeight": "bold", "baseline": "middle", "align": "center", "lineHeight": 21, "lineBreak": "\n", "x": 399.2, "y": 304.6, "radius": 135},
                     "encoding": {"theta": {"field": "am", "type": "quantitative"}, "text": {"field": "label"}, "color": {"condition": {"test": "datum.cat === 'Clay'", "value": "#ffffff"}, "value": "#231f20"}}},
                    {"transform": [{"filter": {"field": "cat", "oneOf": ["Coarse silt", "Medium silt", "Fine silt"]}}],
                     "mark": {"type": "text", "font": "Liberation Serif", "fontSize": 17, "fontWeight": "bold", "baseline": "middle", "align": "center", "lineHeight": 21, "lineBreak": "\n", "x": 399.2, "y": 304.6, "radius": 104},
                     "encoding": {"theta": {"field": "am", "type": "quantitative"}, "text": {"field": "label"}, "color": {"condition": {"test": "datum.cat === 'Clay'", "value": "#ffffff"}, "value": "#231f20"}}},
                    {"transform": [{"filter": "datum.cat === 'Organic content'"}],
                     "layer": [
                       {"mark": {"type": "arc", "x": 399.2, "y": 304.6, "radius": 212, "radius2": 181, "stroke": "#231f20", "strokeWidth": 1, "fillOpacity": 0}, "encoding": {"theta": {"field": "am", "type": "quantitative", "stack": null}, "theta2": {"field": "am"}}},
                       {"mark": {"type": "text", "font": "Liberation Serif", "fontSize": 17, "baseline": "alphabetic", "fill": "#231f20", "x": 399.2, "y": 304.6, "radius": 212, "align": "right", "dx": -12, "dy": 3.8}, "encoding": {"theta": {"field": "am", "type": "quantitative"}, "text": {"field": "label"}}}
                     ]},
                    {"transform": [{"filter": "datum.cat === 'Very coarse silt'"}],
                     "mark": {"type": "text", "font": "Liberation Serif", "fontSize": 17, "baseline": "alphabetic", "fill": "#231f20", "x": 399.2, "y": 304.6, "radius": 194, "align": "left", "dx": -7, "dy": -0.4},
                     "encoding": {"theta": {"field": "am", "type": "quantitative"}, "text": {"field": "label"}}}
                  ]
                }
              ]
            }
          ],
          "spacing": 43
        }
      ],
      "spacing": 22
    },
    {
      "hconcat": [
        {
          "width": 598, "height": 606,
          "title": {"text": "E: Major flooding event (78 cm)", "offset": -56.4, "dx": 13},
          "layer": [
            {
              "data": {"name": "bE"},
              "transform": [{"calculate": "max(datum.value, 0)", "as": "top"}],
              "layer": [
                {"mark": {"type": "bar", "fill": "#d1d3d4", "stroke": "#231f20", "strokeWidth": 1},
                 "encoding": {
                   "x": {"field": "stat", "type": "nominal", "scale": {"domain": ["Mean", "Sorting", "Skewness", "Kurtosis"], "range": [36, 261], "paddingInner": 0.596, "paddingOuter": 0.69, "align": 0.424}, "axis": {"offset": -72.5, "title": null}},
                   "y": {"field": "value", "type": "quantitative", "scale": {"domain": [-0.15, 9], "range": [540.9, 88.5], "nice": false, "zero": false}, "axis": {"offset": -49, "title": null, "format": "d", "values": [0, 1, 2, 3, 4, 5, 6, 7, 8, 9]}}
                 }},
                {"transform": [{"filter": "datum.stat === 'Sorting' || datum.stat === 'Kurtosis'"}],
                 "mark": {"type": "rule", "stroke": "#555555", "strokeWidth": 1},
                 "encoding": {"x": {"field": "stat", "type": "nominal"}, "y": {"datum": 0, "type": "quantitative"}, "y2": {"datum": -0.78}}},
                {"transform": [{"filter": "datum.stat === 'Mean'"}],
                 "mark": {"type": "text", "font": "Liberation Serif", "fontSize": 25, "baseline": "alphabetic", "fill": "#231f20", "dy": -9, "align": "left", "dx": -13.5},
                 "encoding": {"x": {"field": "stat", "type": "nominal"}, "y": {"field": "top", "type": "quantitative"}, "text": {"field": "text"}}},
                {"transform": [{"filter": "datum.stat === 'Sorting' || datum.stat === 'Skewness'"}],
                 "mark": {"type": "text", "font": "Liberation Serif", "fontSize": 25, "baseline": "alphabetic", "fill": "#231f20", "dy": -9, "align": "center"},
                 "encoding": {"x": {"field": "stat", "type": "nominal"}, "y": {"field": "top", "type": "quantitative"}, "text": {"field": "text"}}},
                {"transform": [{"filter": "datum.stat === 'Kurtosis'"}],
                 "mark": {"type": "text", "font": "Liberation Serif", "fontSize": 25, "baseline": "alphabetic", "fill": "#231f20", "dy": -9, "align": "center", "dx": -14},
                 "encoding": {"x": {"field": "stat", "type": "nominal"}, "y": {"field": "top", "type": "quantitative"}, "text": {"field": "text"}}}
              ]
            },
            {
              "data": {"name": "stats"},
              "layer": [
                {"transform": [{"filter": "datum.stat === 'Mean'"}],
                 "mark": {"type": "text", "font": "Liberation Serif", "fontSize": 20, "baseline": "alphabetic", "align": "left", "fill": "#231f20", "dx": -29, "dy": 29},
                 "encoding": {"x": {"field": "stat", "type": "nominal"}, "y": {"datum": 0, "type": "quantitative"}, "text": {"field": "name"}}},
                {"transform": [{"filter": "datum.stat === 'Skewness'"}],
                 "mark": {"type": "text", "font": "Liberation Serif", "fontSize": 20, "baseline": "alphabetic", "align": "left", "fill": "#231f20", "dx": -39, "dy": 29},
                 "encoding": {"x": {"field": "stat", "type": "nominal"}, "y": {"datum": 0, "type": "quantitative"}, "text": {"field": "name"}}},
                {"transform": [{"filter": "datum.stat === 'Sorting' || datum.stat === 'Kurtosis'"}],
                 "mark": {"type": "text", "font": "Liberation Serif", "fontSize": 20, "baseline": "alphabetic", "align": "left", "fill": "#231f20", "dx": -27.5, "dy": 54},
                 "encoding": {"x": {"field": "stat", "type": "nominal"}, "y": {"datum": 0, "type": "quantitative"}, "text": {"field": "name"}}}
              ]
            },
            {
              "data": {"name": "pE"},
              "transform": [
                {"window": [{"op": "row_number", "as": "k"}]},
                {"stack": "pct", "groupby": [], "sort": [{"field": "k", "order": "ascending"}], "as": ["a0", "a1"]},
                {"calculate": "(datum.a0 + datum.a1) / 2", "as": "am"}
              ],
              "layer": [
                {"mark": {"type": "arc", "x": 398.3, "y": 277.5, "radius": 181, "stroke": "#231f20", "strokeWidth": 1},
                 "encoding": {"theta": {"field": "a0", "type": "quantitative", "stack": null, "scale": {"domain": [0, 100]}}, "theta2": {"field": "a1"},
                   "fill": {"field": "cat", "type": "nominal", "scale": {"domain": ["Very fine sand", "Very coarse silt", "Coarse silt", "Medium silt", "Fine silt", "Very fine silt", "Clay", "Organic content"], "range": ["#ffffff", "#e6e7e8", "#d1d3d4", "#bcbec0", "#a7a9ac", "#939598", "#808285", "#ffffff"]}, "legend": null}}},
                {"transform": [{"filter": "datum.cat === 'Very fine sand'"}],
                 "mark": {"type": "arc", "x": 398.3, "y": 277.5, "radius": 179, "radius2": 6, "stroke": "#000000", "strokeWidth": 2.5, "strokeDash": [8, 7], "fillOpacity": 0},
                 "encoding": {"theta": {"field": "am", "type": "quantitative", "stack": null}, "theta2": {"field": "am"}}},
                {"transform": [{"filter": {"field": "cat", "oneOf": ["Clay"]}}],
                 "mark": {"type": "text", "font": "Liberation Serif", "fontSize": 17, "fontWeight": "bold", "baseline": "middle", "align": "center", "lineHeight": 21, "lineBreak": "\n", "x": 398.3, "y": 277.5, "radius": 129},
                 "encoding": {"theta": {"field": "am", "type": "quantitative"}, "text": {"field": "label"}, "color": {"condition": {"test": "datum.cat === 'Clay'", "value": "#ffffff"}, "value": "#231f20"}}},
                {"transform": [{"filter": {"field": "cat", "oneOf": ["Very fine silt"]}}],
                 "mark": {"type": "text", "font": "Liberation Serif", "fontSize": 17, "fontWeight": "bold", "baseline": "middle", "align": "center", "lineHeight": 21, "lineBreak": "\n", "x": 398.3, "y": 277.5, "radius": 115},
                 "encoding": {"theta": {"field": "am", "type": "quantitative"}, "text": {"field": "label"}, "color": {"condition": {"test": "datum.cat === 'Clay'", "value": "#ffffff"}, "value": "#231f20"}}},
                {"transform": [{"filter": {"field": "cat", "oneOf": ["Coarse silt", "Medium silt", "Fine silt"]}}],
                 "mark": {"type": "text", "font": "Liberation Serif", "fontSize": 17, "fontWeight": "bold", "baseline": "middle", "align": "center", "lineHeight": 21, "lineBreak": "\n", "x": 398.3, "y": 277.5, "radius": 104},
                 "encoding": {"theta": {"field": "am", "type": "quantitative"}, "text": {"field": "label"}, "color": {"condition": {"test": "datum.cat === 'Clay'", "value": "#ffffff"}, "value": "#231f20"}}},
                {"transform": [{"filter": "datum.cat === 'Very fine sand'"}],
                 "layer": [
                   {"mark": {"type": "arc", "x": 398.3, "y": 277.5, "radius": 202, "radius2": 181, "stroke": "#231f20", "strokeWidth": 1, "fillOpacity": 0}, "encoding": {"theta": {"field": "am", "type": "quantitative", "stack": null}, "theta2": {"field": "am"}}},
                   {"mark": {"type": "text", "font": "Liberation Serif", "fontSize": 17, "baseline": "alphabetic", "fill": "#231f20", "x": 398.3, "y": 277.5, "radius": 202, "align": "left", "dx": 34.4, "dy": 5.5}, "encoding": {"theta": {"field": "am", "type": "quantitative"}, "text": {"field": "label"}}}
                 ]},
                {"transform": [{"filter": "datum.cat === 'Very coarse silt'"}],
                 "mark": {"type": "text", "font": "Liberation Serif", "fontSize": 17, "baseline": "alphabetic", "fill": "#231f20", "x": 398.3, "y": 277.5, "radius": 181, "align": "left", "dx": -23.4, "dy": 1.5},
                 "encoding": {"theta": {"field": "am", "type": "quantitative"}, "text": {"field": "label"}}},
                {"transform": [{"filter": "datum.cat === 'Organic content'"}],
                 "layer": [
                   {"mark": {"type": "arc", "x": 398.3, "y": 277.5, "radius": 187, "radius2": 181, "stroke": "#231f20", "strokeWidth": 1, "fillOpacity": 0}, "encoding": {"theta": {"field": "am", "type": "quantitative", "stack": null}, "theta2": {"field": "am"}}},
                   {"mark": {"type": "text", "font": "Liberation Serif", "fontSize": 17, "baseline": "alphabetic", "fill": "#231f20", "x": 398.3, "y": 277.5, "radius": 187, "align": "right", "dx": -20.3, "dy": 6}, "encoding": {"theta": {"field": "am", "type": "quantitative"}, "text": {"field": "label"}}}
                 ]}
              ]
            }
          ]
        },
        {
          "width": 598, "height": 606,
          "title": {"text": "F: Small flooding event (99 cm)", "offset": -55.8, "dx": 9},
          "layer": [
            {
              "data": {"name": "bF"},
              "transform": [{"calculate": "max(datum.value, 0)", "as": "top"}],
              "layer": [
                {"mark": {"type": "bar", "fill": "#d1d3d4", "stroke": "#231f20", "strokeWidth": 1},
                 "encoding": {
                   "x": {"field": "stat", "type": "nominal", "scale": {"domain": ["Mean", "Sorting", "Skewness", "Kurtosis"], "range": [30, 255], "paddingInner": 0.596, "paddingOuter": 0.69, "align": 0.424}, "axis": {"offset": -72.5, "title": null}},
                   "y": {"field": "value", "type": "quantitative", "scale": {"domain": [-0.15, 9], "range": [540.9, 88.5], "nice": false, "zero": false}, "axis": {"offset": -43, "title": null, "format": "d", "values": [0, 1, 2, 3, 4, 5, 6, 7, 8, 9]}}
                 }},
                {"transform": [{"filter": "datum.stat === 'Sorting' || datum.stat === 'Kurtosis'"}],
                 "mark": {"type": "rule", "stroke": "#555555", "strokeWidth": 1},
                 "encoding": {"x": {"field": "stat", "type": "nominal"}, "y": {"datum": 0, "type": "quantitative"}, "y2": {"datum": -0.78}}},
                {"transform": [{"filter": "datum.stat === 'Mean'"}],
                 "mark": {"type": "text", "font": "Liberation Serif", "fontSize": 25, "baseline": "alphabetic", "fill": "#231f20", "dy": -9, "align": "left", "dx": -13.5},
                 "encoding": {"x": {"field": "stat", "type": "nominal"}, "y": {"field": "top", "type": "quantitative"}, "text": {"field": "text"}}},
                {"transform": [{"filter": "datum.stat === 'Sorting' || datum.stat === 'Skewness'"}],
                 "mark": {"type": "text", "font": "Liberation Serif", "fontSize": 25, "baseline": "alphabetic", "fill": "#231f20", "dy": -9, "align": "center"},
                 "encoding": {"x": {"field": "stat", "type": "nominal"}, "y": {"field": "top", "type": "quantitative"}, "text": {"field": "text"}}},
                {"transform": [{"filter": "datum.stat === 'Kurtosis'"}],
                 "mark": {"type": "text", "font": "Liberation Serif", "fontSize": 25, "baseline": "alphabetic", "fill": "#231f20", "dy": -9, "align": "center", "dx": -14},
                 "encoding": {"x": {"field": "stat", "type": "nominal"}, "y": {"field": "top", "type": "quantitative"}, "text": {"field": "text"}}}
              ]
            },
            {
              "data": {"name": "stats"},
              "layer": [
                {"transform": [{"filter": "datum.stat === 'Mean'"}],
                 "mark": {"type": "text", "font": "Liberation Serif", "fontSize": 20, "baseline": "alphabetic", "align": "left", "fill": "#231f20", "dx": -29, "dy": 29},
                 "encoding": {"x": {"field": "stat", "type": "nominal"}, "y": {"datum": 0, "type": "quantitative"}, "text": {"field": "name"}}},
                {"transform": [{"filter": "datum.stat === 'Skewness'"}],
                 "mark": {"type": "text", "font": "Liberation Serif", "fontSize": 20, "baseline": "alphabetic", "align": "left", "fill": "#231f20", "dx": -39, "dy": 29},
                 "encoding": {"x": {"field": "stat", "type": "nominal"}, "y": {"datum": 0, "type": "quantitative"}, "text": {"field": "name"}}},
                {"transform": [{"filter": "datum.stat === 'Sorting' || datum.stat === 'Kurtosis'"}],
                 "mark": {"type": "text", "font": "Liberation Serif", "fontSize": 20, "baseline": "alphabetic", "align": "left", "fill": "#231f20", "dx": -27.5, "dy": 54},
                 "encoding": {"x": {"field": "stat", "type": "nominal"}, "y": {"datum": 0, "type": "quantitative"}, "text": {"field": "name"}}}
              ]
            },
            {
              "data": {"name": "pF"},
              "transform": [
                {"window": [{"op": "row_number", "as": "k"}]},
                {"stack": "pct", "groupby": [], "sort": [{"field": "k", "order": "ascending"}], "as": ["a0", "a1"]},
                {"calculate": "(datum.a0 + datum.a1) / 2", "as": "am"}
              ],
              "layer": [
                {"mark": {"type": "arc", "x": 387.2, "y": 286.8, "radius": 181, "stroke": "#231f20", "strokeWidth": 1},
                 "encoding": {"theta": {"field": "a0", "type": "quantitative", "stack": null, "scale": {"domain": [0, 99.7]}}, "theta2": {"field": "a1"},
                   "fill": {"field": "cat", "type": "nominal", "scale": {"domain": ["Very fine sand", "Very coarse silt", "Coarse silt", "Medium silt", "Fine silt", "Very fine silt", "Clay", "Organic content"], "range": ["#ffffff", "#e6e7e8", "#d1d3d4", "#bcbec0", "#a7a9ac", "#939598", "#808285", "#ffffff"]}, "legend": null}}},
                {"transform": [{"filter": {"field": "cat", "oneOf": ["Clay", "Very fine silt"]}}],
                 "mark": {"type": "text", "font": "Liberation Serif", "fontSize": 17, "fontWeight": "bold", "baseline": "middle", "align": "center", "lineHeight": 21, "lineBreak": "\n", "x": 387.2, "y": 286.8, "radius": 117},
                 "encoding": {"theta": {"field": "am", "type": "quantitative"}, "text": {"field": "label"}, "color": {"condition": {"test": "datum.cat === 'Clay'", "value": "#ffffff"}, "value": "#231f20"}}},
                {"transform": [{"filter": {"field": "cat", "oneOf": ["Medium silt"]}}],
                 "mark": {"type": "text", "font": "Liberation Serif", "fontSize": 17, "fontWeight": "bold", "baseline": "middle", "align": "center", "lineHeight": 21, "lineBreak": "\n", "x": 387.2, "y": 286.8, "radius": 110},
                 "encoding": {"theta": {"field": "am", "type": "quantitative"}, "text": {"field": "label"}, "color": {"condition": {"test": "datum.cat === 'Clay'", "value": "#ffffff"}, "value": "#231f20"}}},
                {"transform": [{"filter": {"field": "cat", "oneOf": ["Fine silt"]}}],
                 "mark": {"type": "text", "font": "Liberation Serif", "fontSize": 17, "fontWeight": "bold", "baseline": "middle", "align": "center", "lineHeight": 21, "lineBreak": "\n", "x": 387.2, "y": 286.8, "radius": 85},
                 "encoding": {"theta": {"field": "am", "type": "quantitative"}, "text": {"field": "label"}, "color": {"condition": {"test": "datum.cat === 'Clay'", "value": "#ffffff"}, "value": "#231f20"}}},
                {"transform": [{"filter": "datum.cat === 'Very coarse silt'"}],
                 "layer": [
                   {"mark": {"type": "arc", "x": 387.2, "y": 286.8, "radius": 205, "radius2": 181, "stroke": "#231f20", "strokeWidth": 1, "fillOpacity": 0}, "encoding": {"theta": {"field": "am", "type": "quantitative", "stack": null}, "theta2": {"field": "am"}}},
                   {"mark": {"type": "text", "font": "Liberation Serif", "fontSize": 17, "baseline": "alphabetic", "fill": "#231f20", "x": 387.2, "y": 286.8, "radius": 205, "align": "left", "dx": 14.7, "dy": 5.5}, "encoding": {"theta": {"field": "am", "type": "quantitative"}, "text": {"field": "label"}}}
                 ]},
                {"transform": [{"filter": "datum.cat === 'Coarse silt'"}],
                 "mark": {"type": "text", "font": "Liberation Serif", "fontSize": 17, "baseline": "alphabetic", "fill": "#231f20", "x": 387.2, "y": 286.8, "radius": 181, "align": "left", "dx": -4.9, "dy": -0.8},
                 "encoding": {"theta": {"field": "am", "type": "quantitative"}, "text": {"field": "label"}}},
                {"transform": [{"filter": "datum.cat === 'Organic content'"}],
                 "mark": {"type": "text", "font": "Liberation Serif", "fontSize": 17, "baseline": "alphabetic", "fill": "#231f20", "x": 387.2, "y": 286.8, "radius": 181, "align": "right", "dx": 22, "dy": -8.8},
                 "encoding": {"theta": {"field": "am", "type": "quantitative"}, "text": {"field": "label"}}}
              ]
            }
          ]
        }
      ],
      "spacing": 43
    }
  ],
  "spacing": 31
}
